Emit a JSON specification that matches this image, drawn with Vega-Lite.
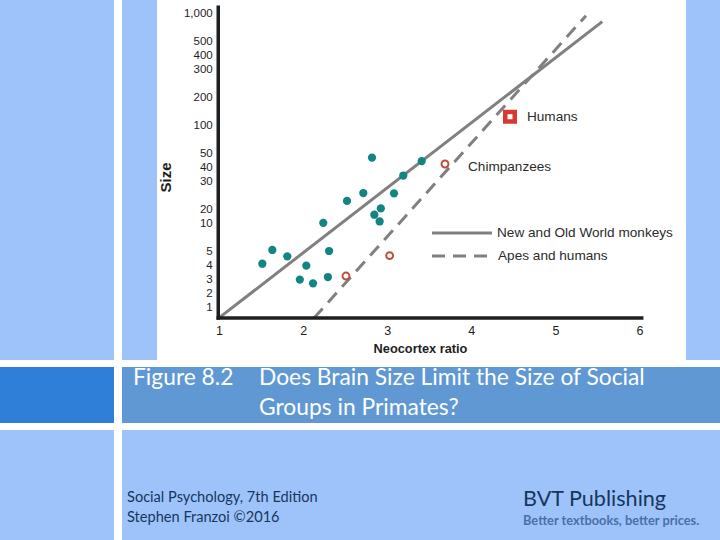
{
  "$schema": "https://vega.github.io/schema/vega-lite/v6.json",
  "width": 720,
  "height": 540,
  "autosize": "none",
  "padding": 0,
  "background": "#9ec3fa",
  "config": {"view": {"stroke": null}, "font": "Liberation Sans"},
  "datasets": {
    "bg": [
      {"part": "white", "x": 0.263, "x2": 6.553, "y": -2.786, "y2": 1232},
      {"part": "white", "x": -0.2485, "x2": -0.1534, "y": -15.64, "y2": 1232},
      {"part": "white", "x": -1.604, "x2": 6.957, "y": -3.286, "y2": -2.786},
      {"part": "dark", "x": -1.604, "x2": -0.2485, "y": -7.286, "y2": -3.286},
      {"part": "mid", "x": -0.1534, "x2": 6.957, "y": -7.286, "y2": -3.286},
      {"part": "white", "x": -1.604, "x2": 6.957, "y": -7.786, "y2": -7.286}
    ],
    "lines": [
      {"series": "monkeys", "style": "solid", "x": 0.992, "y": 0.19},
      {"series": "monkeys", "style": "solid", "x": 5.557, "y": 845},
      {"series": "apes", "style": "dashed", "x": 2.129, "y": 0.21},
      {"series": "apes", "style": "dashed", "x": 5.363, "y": 952},
      {"series": "legendMonkeys", "style": "solid", "x": 3.533, "y": 8.21},
      {"series": "legendMonkeys", "style": "solid", "x": 4.246, "y": 8.21},
      {"series": "legendApes", "style": "dashed", "x": 3.533, "y": 4.64},
      {"series": "legendApes", "style": "dashed", "x": 4.246, "y": 4.64}
    ],
    "axes": [
      {"x": 0.991, "x2": 0.991, "y": 0.21, "y2": 1101},
      {"x": 0.991, "x2": 6.026, "y": 0.21, "y2": 0.21}
    ],
    "pts": [
      {"group": "monkey", "x": 1.515, "y": 4.09},
      {"group": "monkey", "x": 1.634, "y": 5.18},
      {"group": "monkey", "x": 1.812, "y": 4.62},
      {"group": "monkey", "x": 2.038, "y": 3.95},
      {"group": "monkey", "x": 1.961, "y": 2.96},
      {"group": "monkey", "x": 2.118, "y": 2.69},
      {"group": "monkey", "x": 2.295, "y": 3.14},
      {"group": "monkey", "x": 2.309, "y": 5.0},
      {"group": "monkey", "x": 2.24, "y": 10.1},
      {"group": "monkey", "x": 2.522, "y": 22.9},
      {"group": "monkey", "x": 2.716, "y": 25.7},
      {"group": "monkey", "x": 2.819, "y": 47.0},
      {"group": "monkey", "x": 3.081, "y": 25.6},
      {"group": "monkey", "x": 3.191, "y": 33.9},
      {"group": "monkey", "x": 3.41, "y": 44.4},
      {"group": "monkey", "x": 2.924, "y": 20.2},
      {"group": "monkey", "x": 2.847, "y": 15.9},
      {"group": "monkey", "x": 2.91, "y": 11.1},
      {"group": "ape", "x": 2.51, "y": 3.21},
      {"group": "ape", "x": 3.029, "y": 4.67},
      {"group": "ape", "x": 3.687, "y": 42.2},
      {"group": "human", "x": 4.46, "y": 129.6}
    ],
    "texts": [
      {"kind": "anno", "x": 4.662, "y": 128.6, "text": "Humans"},
      {"kind": "anno", "x": 3.961, "y": 39.8, "text": "Chimpanzees"},
      {"kind": "anno", "x": 4.306, "y": 8.21, "text": "New and Old World monkeys"},
      {"kind": "anno", "x": 4.318, "y": 4.64, "text": "Apes and humans"},
      {"kind": "caption", "x": -0.0226, "y": -4.571, "text": "Figure 8.2"},
      {"kind": "caption", "x": 1.4756, "y": -4.571, "text": "Does Brain Size Limit the Size of Social"},
      {"kind": "caption", "x": 1.4756, "y": -6.679, "text": "Groups in Primates?"},
      {"kind": "footer", "x": -0.0939, "y": -12.929, "text": "Social Psychology, 7th Edition"},
      {"kind": "footer", "x": -0.0939, "y": -14.357, "text": "Stephen Franzoi ©2016"},
      {"kind": "brand", "x": 4.615, "y": -13.214, "text": "BVT Publishing"},
      {"kind": "tagline", "x": 4.615, "y": -14.571, "text": "Better textbooks, better prices."}
    ]
  },
  "encoding": {
    "x": {
      "field": "x",
      "type": "quantitative",
      "scale": {"domain": [-1.604, 6.957], "nice": false, "zero": false},
      "axis": {
        "orient": "bottom",
        "offset": -222,
        "values": [1, 2, 3, 4, 5, 6],
        "domain": false,
        "ticks": false,
        "tickSize": 0,
        "grid": false,
        "labelPadding": 6,
        "labelFont": "Liberation Sans",
        "labelFontSize": 12.5,
        "labelColor": "#1e1e1e",
        "title": "Neocortex ratio",
        "titleFont": "Liberation Sans",
        "titleFontSize": 12.8,
        "titleFontWeight": "bold",
        "titleColor": "#1e1e1e",
        "titleX": 420,
        "titleY": 30,
        "titleAlign": "center",
        "titleBaseline": "middle",
        "zindex": 1
      }
    },
    "y": {
      "field": "y",
      "type": "quantitative",
      "scale": {
        "domain": [-15.64, 0, 1, 2, 3, 4, 5, 10, 20, 30, 40, 50, 100, 200, 300, 400, 500, 1000, 1232],
        "range": [540, 321, 307, 293, 279, 265, 251, 223, 209, 181, 167, 153.5, 125, 97, 69.5, 55, 41, 13, 0],
        "nice": false,
        "zero": false
      },
      "axis": {
        "orient": "left",
        "offset": -218.2,
        "values": [1, 2, 3, 4, 5, 10, 20, 30, 40, 50, 100, 200, 300, 400, 500, 1000],
        "labelExpr": "format(datum.value, ',')",
        "domain": false,
        "ticks": false,
        "tickSize": 0,
        "grid": false,
        "labelPadding": 6,
        "labelFont": "Liberation Sans",
        "labelFontSize": 11.5,
        "labelColor": "#1e1e1e",
        "title": "Size",
        "titleFont": "Liberation Sans",
        "titleFontSize": 15,
        "titleFontWeight": "bold",
        "titleColor": "#1e1e1e",
        "titleX": -53,
        "titleY": 177,
        "titleAngle": -90,
        "titleAlign": "center",
        "titleBaseline": "middle",
        "zindex": 1
      }
    }
  },
  "layer": [
    {
      "data": {"name": "bg"},
      "mark": {"type": "rect"},
      "encoding": {
        "x2": {"field": "x2"},
        "y2": {"field": "y2"},
        "color": {
          "field": "part",
          "type": "nominal",
          "scale": {"domain": ["white", "dark", "mid"], "range": ["#ffffff", "#2f7fd8", "#6098d4"]},
          "legend": null
        }
      }
    },
    {
      "data": {"name": "lines"},
      "transform": [{"filter": "datum.style == 'solid'"}],
      "mark": {"type": "line", "color": "#808080", "strokeWidth": 3},
      "encoding": {"detail": {"field": "series"}}
    },
    {
      "data": {"name": "lines"},
      "transform": [{"filter": "datum.style == 'dashed'"}],
      "mark": {"type": "line", "color": "#808080", "strokeWidth": 3, "strokeDash": [13, 8]},
      "encoding": {"detail": {"field": "series"}}
    },
    {
      "data": {"name": "axes"},
      "mark": {"type": "rule", "color": "#1e1e1e", "strokeWidth": 3.5, "strokeCap": "square"},
      "encoding": {"x2": {"field": "x2"}, "y2": {"field": "y2"}}
    },
    {
      "data": {"name": "pts"},
      "transform": [{"filter": "datum.group == 'monkey'"}],
      "mark": {"type": "circle", "color": "#128583", "size": 68, "opacity": 1}
    },
    {
      "data": {"name": "pts"},
      "transform": [{"filter": "datum.group == 'ape'"}],
      "mark": {"type": "circle", "fill": "#ffffff", "stroke": "#c0503e", "strokeWidth": 2, "size": 48, "opacity": 1}
    },
    {
      "data": {"name": "pts"},
      "transform": [{"filter": "datum.group == 'human'"}],
      "mark": {"type": "square", "fill": "#ffffff", "stroke": "#d63a30", "strokeWidth": 4.5, "size": 90, "opacity": 1}
    },
    {
      "data": {"name": "texts"},
      "transform": [{"filter": "datum.kind == 'anno'"}],
      "mark": {"type": "text", "align": "left", "baseline": "middle", "font": "Liberation Sans", "fontSize": 13.6, "color": "#2b2b2b"},
      "encoding": {"text": {"field": "text"}}
    },
    {
      "data": {"name": "texts"},
      "transform": [{"filter": "datum.kind == 'caption'"}],
      "mark": {"type": "text", "align": "left", "baseline": "alphabetic", "font": "Lato", "fontSize": 22.8, "color": "#ffffff"},
      "encoding": {"text": {"field": "text"}}
    },
    {
      "data": {"name": "texts"},
      "transform": [{"filter": "datum.kind == 'footer'"}],
      "mark": {"type": "text", "align": "left", "baseline": "alphabetic", "font": "Lato", "fontSize": 14.6, "color": "#17365d"},
      "encoding": {"text": {"field": "text"}}
    },
    {
      "data": {"name": "texts"},
      "transform": [{"filter": "datum.kind == 'brand'"}],
      "mark": {"type": "text", "align": "left", "baseline": "alphabetic", "font": "Lato", "fontSize": 21.6, "color": "#17365d"},
      "encoding": {"text": {"field": "text"}}
    },
    {
      "data": {"name": "texts"},
      "transform": [{"filter": "datum.kind == 'tagline'"}],
      "mark": {"type": "text", "align": "left", "baseline": "alphabetic", "font": "Lato", "fontSize": 12.8, "fontWeight": "bold", "color": "#4a6fa8"},
      "encoding": {"text": {"field": "text"}}
    }
  ]
}
